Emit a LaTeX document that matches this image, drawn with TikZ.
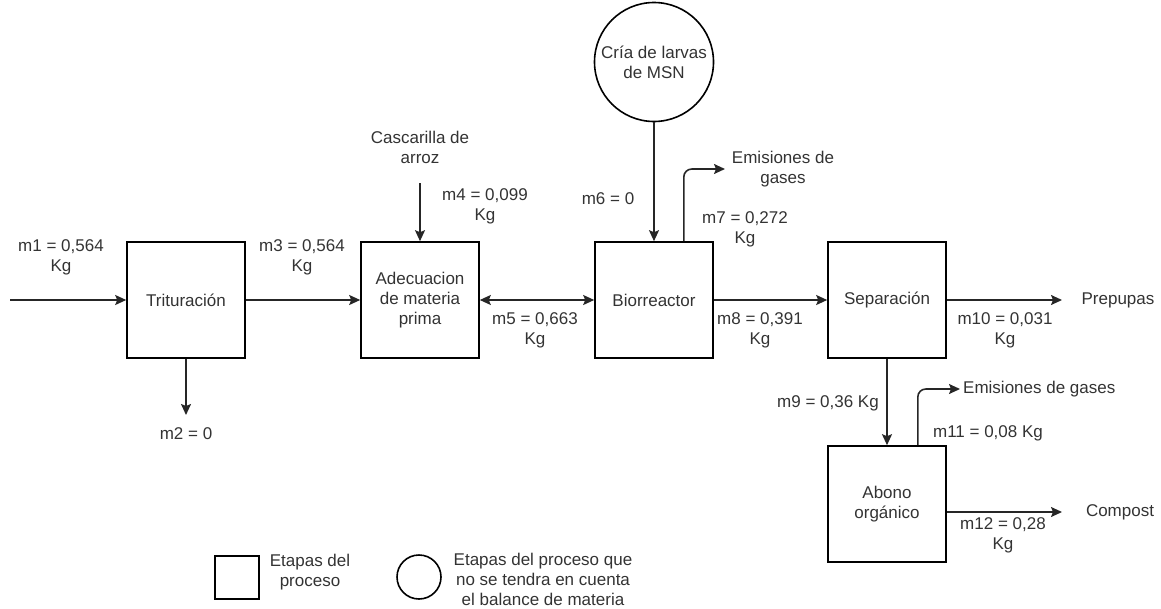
\documentclass[tikz,border=0pt]{standalone}
\usepackage{fontspec}
\setmainfont{Liberation Sans}
\usetikzlibrary{arrows.meta}
\begin{document}
\begin{tikzpicture}[x=1pt,y=-1pt,
  every node/.style={font=\fontsize{17}{20}\selectfont, text=black!80},
  stage/.style={draw=black, line width=1.6, minimum width=118, minimum height=116,
    align=center, inner sep=0},
  flow/.style={line width=1.6, draw=black!85, -{Stealth[length=11, width=10, inset=2]}},
  both/.style={line width=1.6, draw=black!85,
    {Stealth[length=11, width=10, inset=2]}-{Stealth[length=11, width=10, inset=2]}},
  lbl/.style={align=center, inner sep=0},
]
\useasboundingbox (0,0) rectangle (1161,608);

% process stages
\node[stage] (tri) at (186,300) {Trituración};
\node[stage] (ade) at (420,300) {Adecuacion\\de materia\\prima};
\node[stage] (bio) at (654,300) {Biorreactor};
\node[stage] (sep) at (887,300) {Separación};
\node[stage] (abo) at (887,504) {Abono\\orgánico};
\node[draw=black, line width=1.6, circle, minimum size=119, inner sep=0, align=center]
  (cria) at (654,62) {Cría de larvas\\de MSN};

% free ends of the streams
\coordinate (feed) at (10,300);
\coordinate (m2tip) at (186,415);
\coordinate (casctip) at (420,183);
\coordinate (gas1tip) at (725,169);
\coordinate (preptip) at (1062,300);
\coordinate (gas2tip) at (960,389);
\coordinate (comptip) at (1062,512);

% stream names
\node[lbl] (casc) at (420,147) {Cascarilla de\\arroz};
\node[lbl] (gas1) at (783,169) {Emisiones de\\gases};
\node[lbl, anchor=west] (gas2) at (963,389) {Emisiones de gases};
\node[lbl] (prep) at (1118,300) {Prepupas};
\node[lbl] (comp) at (1120,512) {Compost};

% mass flows
\node[lbl] (m1) at (61,257) {m1 = 0,564\\Kg};
\node[lbl] (m2) at (186,434) {m2 = 0};
\node[lbl] (m3) at (302,257) {m3 = 0,564\\Kg};
\node[lbl] (m4) at (485,206) {m4 = 0,099\\Kg};
\node[lbl] (m5) at (535,330) {m5 = 0,663\\Kg};
\node[lbl] (m6) at (608,199) {m6 = 0};
\node[lbl] (m7) at (745,229) {m7 = 0,272\\Kg};
\node[lbl] (m8) at (760,330) {m8 = 0,391\\Kg};
\node[lbl] (m9) at (828,403) {m9 = 0,36 Kg};
\node[lbl] (m10) at (1005,330) {m10 = 0,031\\Kg};
\node[lbl] (m11) at (988,433) {m11 = 0,08 Kg};
\node[lbl] (m12) at (1003,535) {m12 = 0,28\\Kg};

% connectors
\draw[flow] (feed) -- (tri);
\draw[flow] (tri) -- (ade);
\draw[flow] (tri) -- (m2tip);
\draw[flow] (casctip) -- (ade);
\draw[both] (ade) -- (bio);
\draw[flow] (cria) -- (bio);
\draw[flow, rounded corners=8] ([xshift=-30pt]bio.north east) |- (gas1tip);
\draw[flow] (bio) -- (sep);
\draw[flow] (sep) -- (preptip);
\draw[flow] (sep) -- (abo);
\draw[flow, rounded corners=8] ([xshift=-29pt]abo.north east) |- (gas2tip);
\draw[flow] ([yshift=-8pt]abo.east) -- (comptip);

% legend
\node[draw=black, line width=1.6, minimum width=44, minimum height=43, inner sep=0]
  (legbox) at (237,577.5) {};
\node[lbl] (legboxtxt) at (310,572) {Etapas del\\proceso};
\node[draw=black, line width=1.6, circle, minimum size=44, inner sep=0]
  (legcirc) at (419,577) {};
\node[lbl] (legcirctxt) at (543,579) {Etapas del proceso que\\no se tendra en cuenta\\el balance de materia};
\end{tikzpicture}
\end{document}
